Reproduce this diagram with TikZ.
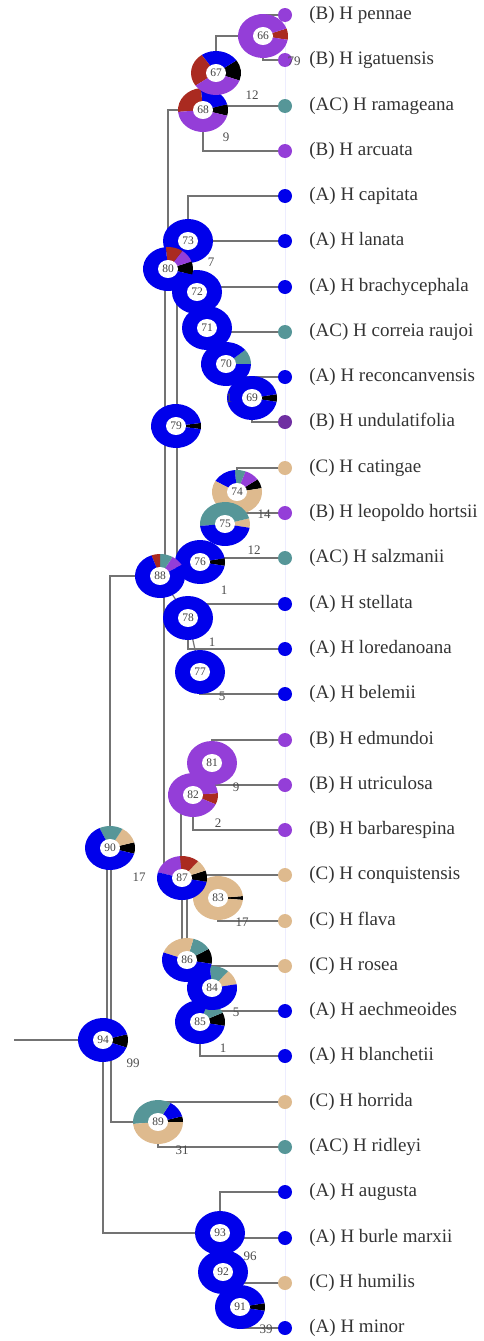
\documentclass[tikz,border=0pt]{standalone}
\usepackage{fontspec}
\setmainfont{Liberation Serif}
\usetikzlibrary{positioning}
\definecolor{cA}{RGB}{0,0,235}
\definecolor{cB}{RGB}{148,62,216}
\definecolor{cC}{RGB}{222,186,142}
\definecolor{cAC}{RGB}{86,150,152}
\definecolor{cR}{RGB}{170,42,32}
\pgfdeclarelayer{lines}
\pgfdeclarelayer{pies}
\pgfsetlayers{lines,pies,main}
\newcommand\donut[2]{%
 \foreach \a/\b/\c in {#2}{\fill[\c] (#1.center) -- ++(\a:25 and 22) arc[start angle=\a,end angle=\b,x radius=25,y radius=22] -- cycle;}%
 \fill[white] (#1.center) ellipse[x radius=10,y radius=9];}

\begin{document}
\begin{tikzpicture}[
 x=1pt,y=1pt,
 tip/.style={circle,fill=#1,inner sep=0pt,minimum size=14pt},
 taxon/.style={anchor=west,inner xsep=17pt,font=\fontsize{19}{19}\selectfont,text=black!80},
 hub/.style={inner sep=0pt,font=\fontsize{11.5}{11.5}\selectfont,text=black!75},
 boot/.style={inner sep=0pt,font=\fontsize{13}{13}\selectfont,text=black!70},
 branch/.style={draw=black!55,line width=1.2pt},
 guide/.style={draw=blue!7,line width=0.8pt}]
\useasboundingbox (0,0) rectangle (484,-1341);
\node[tip=cB,label={[taxon]right:(B) H pennae}] (pennae) at (285,-15) {};
\node[tip=cB,label={[taxon]right:(B) H igatuensis}] (igatuensis) at (285,-60) {};
\node[tip=cAC,label={[taxon]right:(AC) H ramageana}] (ramageana) at (285,-106) {};
\node[tip=cB,label={[taxon]right:(B) H arcuata}] (arcuata) at (285,-151) {};
\node[tip=cA,label={[taxon]right:(A) H capitata}] (capitata) at (285,-196) {};
\node[tip=cA,label={[taxon]right:(A) H lanata}] (lanata) at (285,-241) {};
\node[tip=cA,label={[taxon]right:(A) H brachycephala}] (brachycephala) at (285,-287) {};
\node[tip=cAC,label={[taxon]right:(AC) H correia raujoi}] (correia) at (285,-332) {};
\node[tip=cA,label={[taxon]right:(A) H reconcanvensis}] (reconcanvensis) at (285,-377) {};
\node[tip=cB!75!black,label={[taxon]right:(B) H undulatifolia}] (undulatifolia) at (285,-422) {};
\node[tip=cC,label={[taxon]right:(C) H catingae}] (catingae) at (285,-468) {};
\node[tip=cB,label={[taxon]right:(B) H leopoldo hortsii}] (leopoldo) at (285,-513) {};
\node[tip=cAC,label={[taxon]right:(AC) H salzmanii}] (salzmanii) at (285,-558) {};
\node[tip=cA,label={[taxon]right:(A) H stellata}] (stellata) at (285,-604) {};
\node[tip=cA,label={[taxon]right:(A) H loredanoana}] (loredanoana) at (285,-649) {};
\node[tip=cA,label={[taxon]right:(A) H belemii}] (belemii) at (285,-694) {};
\node[tip=cB,label={[taxon]right:(B) H edmundoi}] (edmundoi) at (285,-740) {};
\node[tip=cB,label={[taxon]right:(B) H utriculosa}] (utriculosa) at (285,-785) {};
\node[tip=cB,label={[taxon]right:(B) H barbarespina}] (barbarespina) at (285,-830) {};
\node[tip=cC,label={[taxon]right:(C) H conquistensis}] (conquistensis) at (285,-875) {};
\node[tip=cC,label={[taxon]right:(C) H flava}] (flava) at (285,-921) {};
\node[tip=cC,label={[taxon]right:(C) H rosea}] (rosea) at (285,-966) {};
\node[tip=cA,label={[taxon]right:(A) H aechmeoides}] (aechmeoides) at (285,-1011) {};
\node[tip=cA,label={[taxon]right:(A) H blanchetii}] (blanchetii) at (285,-1056) {};
\node[tip=cC,label={[taxon]right:(C) H horrida}] (horrida) at (285,-1102) {};
\node[tip=cAC,label={[taxon]right:(AC) H ridleyi}] (ridleyi) at (285,-1147) {};
\node[tip=cA,label={[taxon]right:(A) H augusta}] (augusta) at (285,-1192) {};
\node[tip=cA,label={[taxon]right:(A) H burle marxii}] (burle) at (285,-1238) {};
\node[tip=cC,label={[taxon]right:(C) H humilis}] (humilis) at (285,-1283) {};
\node[tip=cA,label={[taxon]right:(A) H minor}] (minor) at (285,-1328) {};
\node[hub] (n66) at (263,-36) {66};
\node[hub] (n67) at (216,-73) {67};
\node[hub] (n68) at (203,-110) {68};
\node[hub] (n73) at (188,-241) {73};
\node[hub] (n80) at (168,-269) {80};
\node[hub] (n72) at (197,-292) {72};
\node[hub] (n71) at (207,-328) {71};
\node[hub] (n70) at (226,-364) {70};
\node[hub] (n69) at (252,-398) {69};
\node[hub] (n79) at (176,-426) {79};
\node[hub] (n74) at (237,-492) {74};
\node[hub] (n75) at (225,-524) {75};
\node[hub] (n76) at (200,-562) {76};
\node[hub] (n88) at (160,-576) {88};
\node[hub] (n78) at (188,-618) {78};
\node[hub] (n77) at (200,-672) {77};
\node[hub] (n81) at (212,-763) {81};
\node[hub] (n82) at (193,-795) {82};
\node[hub] (n90) at (110,-848) {90};
\node[hub] (n87) at (182,-878) {87};
\node[hub] (n83) at (218,-898) {83};
\node[hub] (n86) at (187,-960) {86};
\node[hub] (n84) at (212,-988) {84};
\node[hub] (n85) at (200,-1022) {85};
\node[hub] (n94) at (103,-1040) {94};
\node[hub] (n89) at (158,-1122) {89};
\node[hub] (n93) at (220,-1233) {93};
\node[hub] (n92) at (223,-1272) {92};
\node[hub] (n91) at (240,-1307) {91};
\coordinate (root) at (14,-1040);
\node[boot] at (294,-61) {79};
\node[boot] at (252,-95) {12};
\node[boot] at (226,-137) {9};
\node[boot] at (211,-262) {7};
\node[boot] at (229,-398) {1};
\node[boot] at (264,-514) {14};
\node[boot] at (254,-550) {12};
\node[boot] at (224,-590) {1};
\node[boot] at (212,-642) {1};
\node[boot] at (222,-696) {5};
\node[boot] at (236,-787) {9};
\node[boot] at (218,-823) {2};
\node[boot] at (139,-877) {17};
\node[boot] at (242,-922) {17};
\node[boot] at (236,-1012) {5};
\node[boot] at (223,-1048) {1};
\node[boot] at (133,-1063) {99};
\node[boot] at (182,-1150) {31};
\node[boot] at (250,-1256) {96};
\node[boot] at (266,-1329) {39};
\begin{pgfonlayer}{lines}
\draw[guide] (pennae) -- (minor);
\draw[branch] (root) -- (n94.center);
\draw[branch] ([xshift=4pt]n94.center) -- ([xshift=4pt]n94.center |- n90.center);
\draw[branch] ([xshift=8pt]n94.center) -- ([xshift=8pt]n94.center |- n90.center);
\draw[branch] ([xshift=8pt]n94.center) |- (n89.center);
\draw[branch] (n94.center) |- (n93.center);
\draw[branch] (n90.center) |- (n88.center);
\draw[branch] (n89.center) |- (horrida);
\draw[branch] (n89.center) |- (ridleyi);
\draw[branch] (n93.center) |- (augusta);
\draw[branch] (n93.center) |- (burle);
\draw[branch] (n92.center) |- (humilis);
\draw[branch] (n91.center) |- (minor);
\draw[branch] (n93.center) -- (n92.center) -- (n91.center);
\draw[branch] ([xshift=5pt]n88.center) -- ([xshift=5pt]n88.center |- n80.center);
\draw[branch] ([xshift=17pt]n88.center) -- ([xshift=17pt]n88.center |- n72.center);
\draw[branch] (n80.center) |- (n68.center);
\draw[branch] (n68.center) |- (ramageana);
\draw[branch] (n68.center) |- (arcuata);
\draw[branch] (n68.center) -- (n67.center);
\draw[branch] (n67.center) |- (n66.center);
\draw[branch] (n66.center) |- (pennae);
\draw[branch] (n66.center) |- (igatuensis);
\draw[branch] (n80.center) -- (n73.center);
\draw[branch] (n73.center) |- (capitata);
\draw[branch] (n73.center) |- (lanata);
\draw[branch] (n80.center) -- (n72.center) -- (n71.center) -- (n70.center) -- (n69.center);
\draw[branch] (n72.center) |- (brachycephala);
\draw[branch] (n71.center) |- (correia);
\draw[branch] (n70.center) |- (reconcanvensis);
\draw[branch] (n69.center) |- (undulatifolia);
\draw[branch] (n88.center) -- (n76.center) -- (n75.center) -- (n74.center);
\draw[branch] (n76.center) |- (salzmanii);
\draw[branch] (n75.center) |- (leopoldo);
\draw[branch] (n74.center) |- (catingae);
\draw[branch] (n88.center) -- (n78.center) -- (n77.center);
\draw[branch] (n78.center) |- (stellata);
\draw[branch] (n78.center) |- (loredanoana);
\draw[branch] (n77.center) |- (belemii);
\draw[branch] ([xshift=4pt]n88.center) -- ([xshift=4pt]n88.center |- n87.center);
\draw[branch] (n82.center) -- (n81.center);
\draw[branch] (n81.center) |- (edmundoi);
\draw[branch] (n82.center) |- (utriculosa);
\draw[branch] (n82.center) |- (barbarespina);
\draw[branch] ([xshift=-12pt]n82.center) -- ([xshift=-12pt]n82.center |- n87.center);
\draw[branch] (n87.center) |- (conquistensis);
\draw[branch] (n87.center) -- (n83.center);
\draw[branch] (n83.center) |- (flava);
\draw[branch] (n87.center) -- (n87.center |- n86.center);
\draw[branch] ([xshift=5pt]n87.center) -- ([xshift=5pt]n87.center |- n86.center);
\draw[branch] (n86.center) |- (rosea);
\draw[branch] (n86.center) -- (n84.center) -- (n85.center);
\draw[branch] (n85.center) |- (aechmeoides);
\draw[branch] (n85.center) |- (blanchetii);
\end{pgfonlayer}
\begin{pgfonlayer}{pies}
\donut{n94}{-20/15/black,15/340/cA}
\donut{n90}{-15/15/black,15/60/cC,60/115/cAC,115/345/cA}
\donut{n89}{0/15/black,15/60/cA,60/185/cAC,185/360/cC}
\donut{n93}{0/360/cA}
\donut{n92}{0/360/cA}
\donut{n91}{-10/10/black,10/350/cA}
\donut{n79}{-8/8/black,8/352/cA}
\donut{n68}{-15/15/black,15/95/cA,95/185/cR,185/345/cB}
\donut{n67}{-20/35/black,35/125/cA,125/215/cR,215/340/cB}
\donut{n66}{-10/20/cR,20/350/cB}
\donut{n69}{-10/10/black,10/350/cA}
\donut{n70}{0/40/cAC,40/360/cA}
\donut{n71}{0/360/cA}
\donut{n73}{0/360/cA}
\donut{n72}{0/360/cA}
\donut{n80}{-15/20/black,20/55/cB,55/95/cR,95/345/cA}
\donut{n74}{10/35/black,35/70/cB,70/95/cAC,95/150/cA,150/370/cC}
\donut{n75}{-10/15/cC,15/185/cAC,185/350/cA}
\donut{n77}{0/360/cA}
\donut{n78}{0/360/cA}
\donut{n76}{-10/10/black,10/350/cA}
\donut{n88}{30/60/cB,60/90/cAC,90/110/cR,110/390/cA}
\donut{n81}{0/360/cB}
\donut{n82}{-25/5/cR,5/335/cB}
\donut{n83}{-5/5/black,5/355/cC}
\donut{n87}{-10/20/black,20/50/cC,50/95/cR,95/165/cB,165/350/cA}
\donut{n85}{-10/25/black,25/70/cAC,70/350/cA}
\donut{n84}{10/50/cC,50/95/cAC,95/370/cA}
\donut{n86}{-10/30/black,30/75/cAC,75/160/cC,160/350/cA}
\end{pgfonlayer}
\end{tikzpicture}
\end{document}
